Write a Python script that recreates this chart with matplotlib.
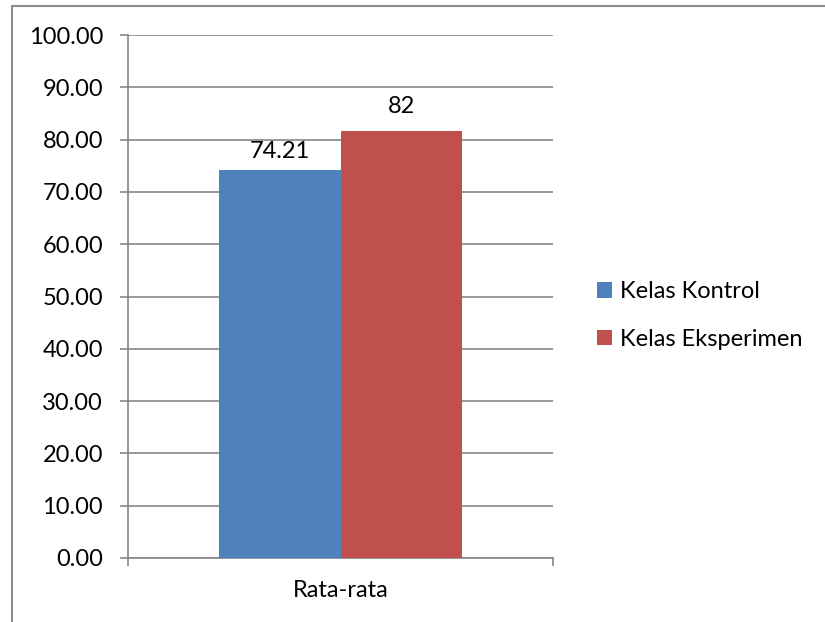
import matplotlib.pyplot as plt
from matplotlib.patches import Rectangle

plt.rcParams['font.family'] = ['Lato', 'DejaVu Sans']

# data
category = 'Rata-rata'
series = ['Kelas Kontrol', 'Kelas Eksperimen']
values = [74.21, 81.7]
value_labels = ['74.21', '82']
colors = ['#4F81BD', '#C0504D']
yticks = [0, 10, 20, 30, 40, 50, 60, 70, 80, 90, 100]

FS = 17

fig = plt.figure(figsize=(8.25, 6.22), dpi=100)
ax = fig.add_axes([128 / 825, 1 - 558 / 622, 425 / 825, 523 / 622])

# outer chart frame (cut at right and bottom edges like the original)
fig.patches.append(Rectangle((12 / 825, -0.05), 1.0, 1 - 6 / 622 + 0.05,
                             transform=fig.transFigure, fill=False,
                             edgecolor='#8c8c8c', linewidth=1.5, zorder=0))

w = 0.286
xs = [0.5 - w / 2, 0.5 + w / 2]
offsets = [6, 10]
for x, v, lab, c, s, off in zip(xs, values, value_labels, colors, series, offsets):
    ax.bar(x, v, width=w, color=c, label=s, zorder=3)
    ax.annotate(lab, (x, v), xytext=(0, off), textcoords='offset points',
                ha='center', va='bottom', fontsize=FS, color='black')

ax.set_xlim(0, 1)
ax.set_ylim(0, 100)
ax.set_yticks(yticks)
ax.set_yticklabels([f'{t:.2f}' for t in yticks], fontsize=FS)
ax.set_xticks([0.5])
ax.set_xticklabels([category], fontsize=FS)
ax.set_xticks([0, 1], minor=True)
ax.tick_params(axis='x', which='major', length=0, pad=16)
ax.tick_params(axis='x', which='minor', length=6, color='#868686', width=1.2)
ax.tick_params(axis='y', length=6, color='#868686', width=1.2, pad=12)

ax.grid(axis='y', color='#868686', linewidth=1.2, zorder=0)
ax.set_axisbelow(True)
for sp in ['top', 'right']:
    ax.spines[sp].set_visible(False)
for sp in ['left', 'bottom']:
    ax.spines[sp].set_color('#868686')
    ax.spines[sp].set_linewidth(1.2)

fig.legend(loc='center left', bbox_to_anchor=(597 / 825, 1 - 315.5 / 622),
           frameon=False, fontsize=FS, borderpad=0, borderaxespad=0,
           handlelength=0.64, handleheight=0.64, handletextpad=0.34,
           labelspacing=1.12)

fig.savefig('out.png', dpi=100)
